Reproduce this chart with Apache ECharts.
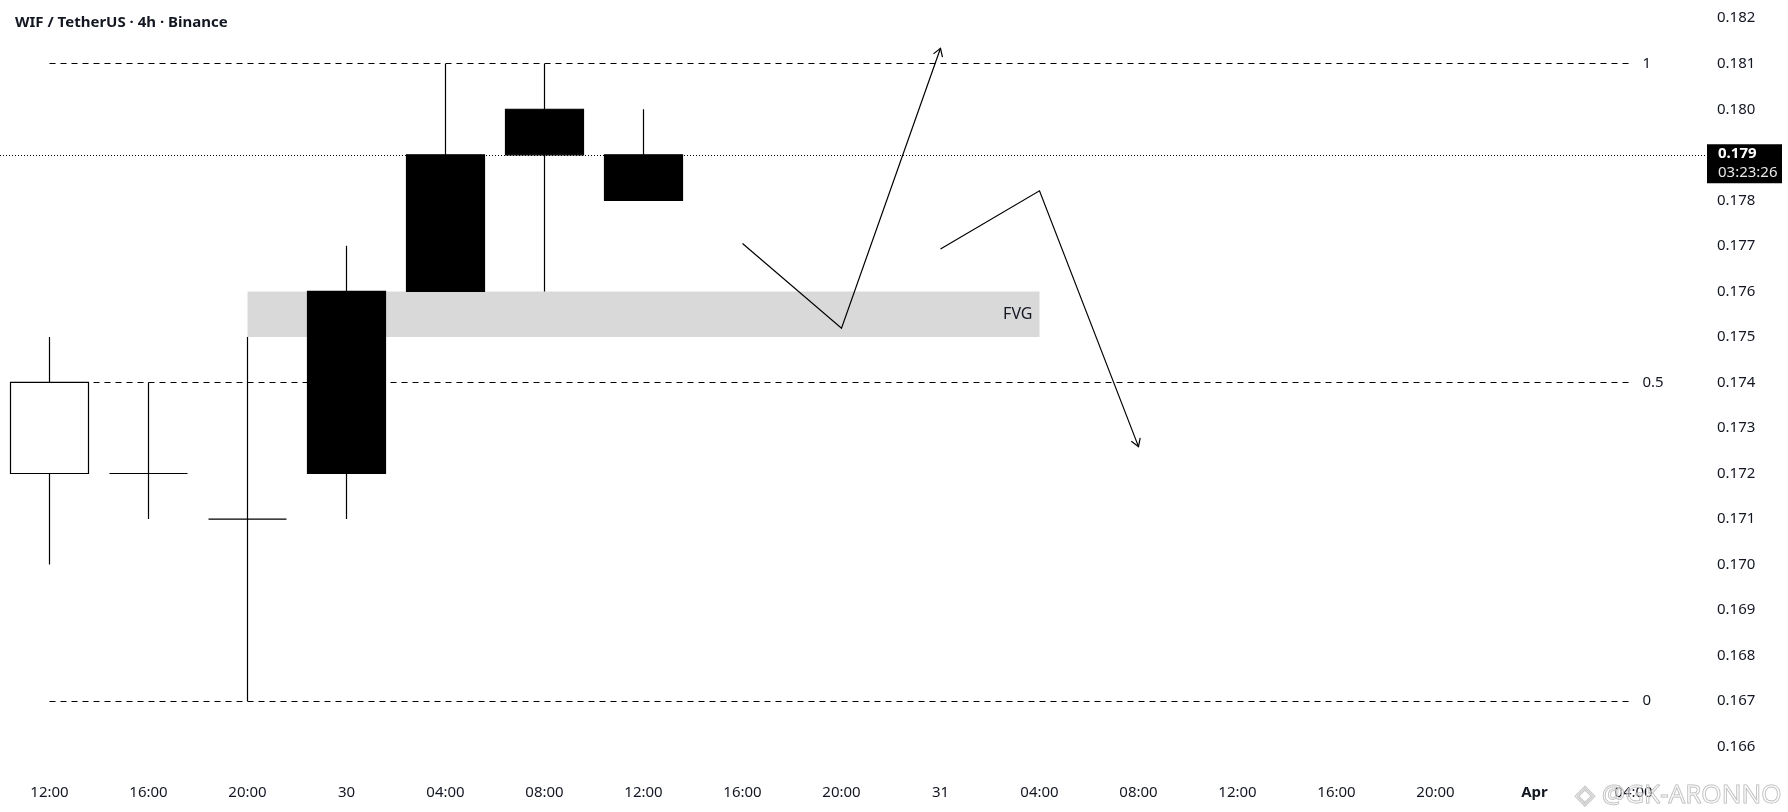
<!DOCTYPE html>
<html>
<head>
<meta charset="utf-8">
<script src="https://cdn.jsdelivr.net/npm/echarts@6/dist/echarts.min.js"></script>
<style>
  html, body { margin: 0; padding: 0; background: #ffffff; }
  #chart { width: 1788px; height: 812px; }
</style>
</head>
<body>
<div id="chart"></div>
<script>
// ---- data ----
const titleText = 'WIF / TetherUS · 4h · Binance';
const timeLabels = ['12:00', '16:00', '20:00', '30', '04:00', '08:00', '12:00', '16:00', '20:00',
                    '31', '04:00', '08:00', '12:00', '16:00', '20:00', 'Apr', '04:00', ''];
// [open, close, low, high]
const candleOpen  = [0.174, 0.172, 0.171, 0.172, 0.176, 0.179, 0.178];
const candleClose = [0.172, 0.172, 0.171, 0.176, 0.179, 0.180, 0.179];
const candleLow   = [0.170, 0.171, 0.167, 0.171, 0.176, 0.176, 0.178];
const candleHigh  = [0.175, 0.174, 0.175, 0.177, 0.181, 0.181, 0.180];

const lastPrice = 0.179;
const countdown = '03:23:26';

const fibLevels = [0.181, 0.174, 0.167];
const fibLabels = ['1', '0.5', '0'];
const fibStartIdx = 0;
const fibEndIdx = 16;

const fvgStartIdx = 2, fvgEndIdx = 10, fvgTop = 0.176, fvgBottom = 0.175;
const fvgLabel = 'FVG';

const arrowUpX = [7, 8, 9];
const arrowUpY = [0.17705, 0.17519, 0.18134];
const arrowDownX = [9, 10, 11];
const arrowDownY = [0.17693, 0.17821, 0.17259];

const yMin = 0.165, yMax = 0.1824, yStep = 0.001;
const watermark = '@GK-ARONNO';

// ---- build ----
const FONT = '"Noto Sans", "Open Sans", sans-serif';
const TXT = '#131722';
const candleData = candleOpen.map((o, i) => [o, candleClose[i], candleLow[i], candleHigh[i]]);
const arrowPaths = [
  arrowUpX.map((x, i) => [x, arrowUpY[i]]),
  arrowDownX.map((x, i) => [x, arrowDownY[i]])
];

const fibMarkLines = fibLevels.map((lv, i) => [
  { coord: [fibStartIdx, lv] },
  { coord: [fibEndIdx, lv], label: { formatter: fibLabels[i] } }
]);

const chart = echarts.init(document.getElementById('chart'), null, { renderer: 'canvas' });

const option = {
  animation: false,
  backgroundColor: '#ffffff',
  textStyle: { fontFamily: FONT },
  title: {
    text: titleText,
    left: 10, top: 10,
    textStyle: { fontSize: 15, fontWeight: 'bold', color: TXT, fontFamily: FONT }
  },
  grid: { left: 0, right: 6, top: 0, bottom: 19.8, outerBoundsMode: 'none', containLabel: false },
  xAxis: {
    type: 'category',
    data: timeLabels,
    boundaryGap: true,
    axisLine: { show: false },
    axisTick: { show: false },
    splitLine: { show: false },
    axisLabel: {
      interval: 0,
      margin: -7,
      color: TXT,
      fontSize: 15,
      fontFamily: FONT,
      formatter: v => v === 'Apr' ? '{b|Apr}' : v,
      rich: { b: { fontWeight: 'bold', fontSize: 15, color: TXT, fontFamily: FONT } }
    }
  },
  yAxis: {
    type: 'value',
    position: 'right',
    offset: -79,
    min: yMin, max: yMax, interval: yStep,
    scale: true,
    axisLine: { show: false },
    axisTick: { show: false },
    splitLine: { show: false },
    axisLabel: {
      margin: 14,
      color: TXT,
      fontSize: 15,
      fontFamily: FONT,
      showMinLabel: false,
      showMaxLabel: false,
      formatter: v => Math.abs(v - lastPrice) < 1e-9 ? '' : v.toFixed(3)
    }
  },
  series: [
    {
      type: 'candlestick',
      z: 3,
      barWidth: 79,
      data: candleData,
      itemStyle: {
        color: '#000000',
        color0: '#ffffff',
        borderColor: '#000000',
        borderColor0: '#000000',
        borderColorDoji: '#000000',
        borderWidth: 1.2
      },
      markArea: {
        silent: true,
        z: 1,
        itemStyle: { color: '#d9d9d9' },
        label: {
          show: true, position: 'insideRight', distance: 7,
          color: TXT, fontSize: 16, fontFamily: FONT
        },
        data: [[
          { xAxis: fvgStartIdx, yAxis: fvgTop, name: fvgLabel },
          { xAxis: fvgEndIdx, yAxis: fvgBottom }
        ]]
      },
      markLine: {
        silent: true,
        symbol: ['none', 'none'],
        precision: 4,
        lineStyle: { color: '#000000', type: [6, 5], width: 1 },
        label: { show: true, position: 'end', distance: 9, color: TXT, fontSize: 15, fontFamily: FONT },
        data: fibMarkLines.concat([
          {
            yAxis: lastPrice,
            lineStyle: { color: '#000000', type: [1, 2], width: 1 },
            label: {
              show: true,
              position: 'insideEndBottom',
              distance: [0, -10.5],
              formatter: '{p|' + lastPrice.toFixed(3) + '}\n{t|' + countdown + '}',
              backgroundColor: '#000000',
              padding: [0, 2, 1, 11],
              rich: {
                p: { color: '#ffffff', fontWeight: 'bold', fontSize: 15, lineHeight: 19, width: 62, align: 'left', fontFamily: FONT },
                t: { color: '#e6e6e6', fontSize: 15, lineHeight: 19, width: 62, align: 'left', fontFamily: FONT }
              }
            }
          }
        ])
      }
    },
    {
      type: 'custom',
      z: 6,
      silent: true,
      data: arrowPaths.map((p, i) => [i]),
      renderItem: function (params, api) {
        const pts = arrowPaths[params.dataIndex].map(p => api.coord(p));
        const n = pts.length;
        const tip = pts[n - 1], prev = pts[n - 2];
        const ang = Math.atan2(prev[1] - tip[1], prev[0] - tip[0]);
        const L = 9, a = 32 * Math.PI / 180;
        const h1 = [tip[0] + L * Math.cos(ang + a), tip[1] + L * Math.sin(ang + a)];
        const h2 = [tip[0] + L * Math.cos(ang - a), tip[1] + L * Math.sin(ang - a)];
        return {
          type: 'group',
          children: [
            { type: 'polyline', shape: { points: pts }, style: { stroke: '#000000', lineWidth: 1.2, fill: null } },
            { type: 'polyline', shape: { points: [h1, tip, h2] }, style: { stroke: '#000000', lineWidth: 1.2, fill: null } }
          ]
        };
      }
    }
  ],
  graphic: [
    {
      type: 'text',
      right: 6, bottom: 3,
      z: 100,
      style: {
        text: '◈ ' + watermark,
        fontSize: 26,
        fontFamily: FONT,
        fill: 'rgba(255,255,255,0.35)',
        stroke: '#b8b8b8',
        lineWidth: 1
      }
    }
  ]
};

chart.setOption(option);
</script>
</body>
</html>
